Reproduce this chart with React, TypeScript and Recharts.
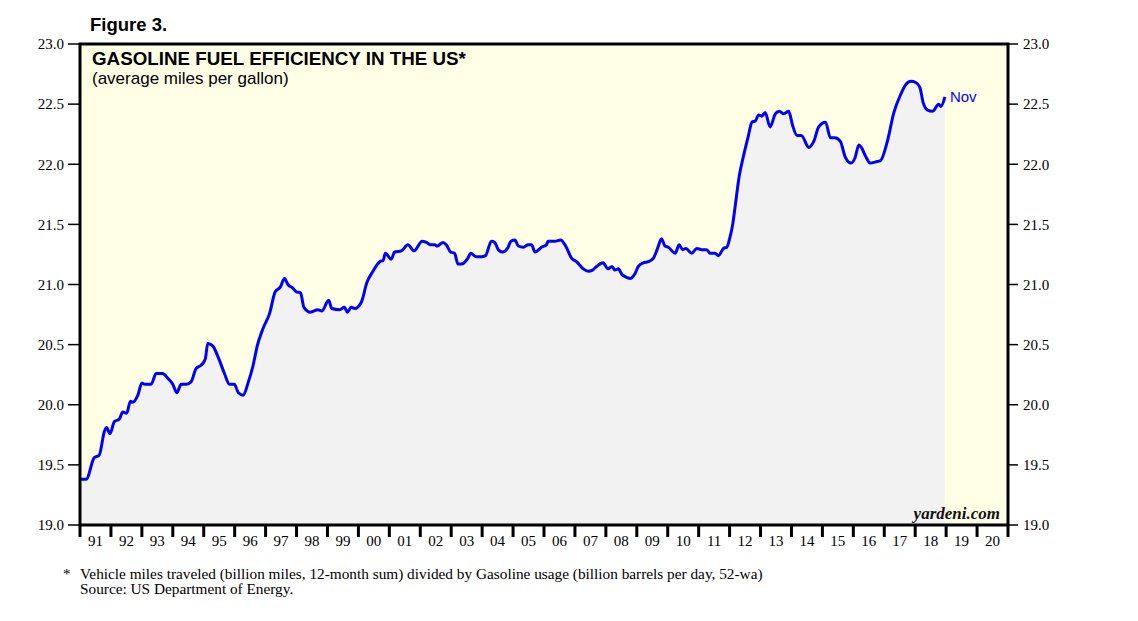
import { ComposedChart, Area, XAxis, YAxis, CartesianGrid, ReferenceArea, ReferenceDot } from "recharts"

// decimal year
const years = [
  1991.0, 1991.2, 1991.46, 1991.62, 1991.79, 1991.86, 1991.97, 1992.11, 1992.27, 1992.38,
  1992.51, 1992.63, 1992.7, 1992.87, 1993.0, 1993.1, 1993.3, 1993.46, 1993.67, 1993.84,
  1994.0, 1994.13, 1994.27, 1994.43, 1994.59, 1994.75, 1994.92, 1995.05, 1995.13, 1995.29,
  1995.46, 1995.67, 1995.83, 1995.99, 1996.12, 1996.28, 1996.43, 1996.59, 1996.73, 1996.91,
  1997.13, 1997.31, 1997.48, 1997.61, 1997.72, 1997.88, 1997.99, 1998.13, 1998.24, 1998.45,
  1998.69, 1998.82, 1999.04, 1999.14, 1999.39, 1999.55, 1999.64, 1999.77, 1999.88, 2000.09,
  2000.28, 2000.47, 2000.69, 2000.8, 2000.87, 2001.06, 2001.17, 2001.39, 2001.6, 2001.8,
  2002.06, 2002.2, 2002.34, 2002.47, 2002.55, 2002.74, 2002.84, 2002.98, 2003.11, 2003.22,
  2003.33, 2003.54, 2003.63, 2003.81, 2003.98, 2004.11, 2004.3, 2004.41, 2004.52, 2004.66,
  2004.84, 2004.93, 2005.06, 2005.17, 2005.33, 2005.49, 2005.6, 2005.71, 2005.92, 2006.08,
  2006.13, 2006.35, 2006.54, 2006.7, 2006.89, 2007.05, 2007.27, 2007.43, 2007.57, 2007.7,
  2007.91, 2008.07, 2008.2, 2008.29, 2008.4, 2008.53, 2008.67, 2008.78, 2008.94, 2009.05,
  2009.21, 2009.37, 2009.54, 2009.67, 2009.8, 2009.91, 2010.02, 2010.24, 2010.37, 2010.48,
  2010.59, 2010.77, 2010.94, 2011.1, 2011.26, 2011.37, 2011.53, 2011.64, 2011.8, 2011.91,
  2012.01, 2012.1, 2012.18, 2012.31, 2012.45, 2012.61, 2012.72, 2012.83, 2012.94, 2013.04,
  2013.15, 2013.31, 2013.48, 2013.61, 2013.75, 2013.91, 2014.04, 2014.18, 2014.32, 2014.56,
  2014.72, 2014.88, 2015.1, 2015.26, 2015.4, 2015.58, 2015.74, 2015.93, 2016.05, 2016.18,
  2016.26, 2016.39, 2016.55, 2016.72, 2016.88, 2017.1, 2017.31, 2017.53, 2017.69, 2017.86,
  2018.02, 2018.15, 2018.26, 2018.4, 2018.56, 2018.76, 2018.83, 2018.96,
]

// average miles per gallon
const mpg = [
  19.38, 19.38, 19.56, 19.58, 19.78, 19.81, 19.76, 19.86, 19.88, 19.94,
  19.93, 20.03, 20.02, 20.08, 20.18, 20.17, 20.17, 20.26, 20.26, 20.22,
  20.17, 20.1, 20.17, 20.17, 20.19, 20.3, 20.33, 20.38, 20.51, 20.49,
  20.4, 20.26, 20.17, 20.17, 20.1, 20.08, 20.18, 20.32, 20.49, 20.63,
  20.76, 20.94, 20.98, 21.05, 21.0, 20.97, 20.94, 20.93, 20.81, 20.77,
  20.79, 20.78, 20.87, 20.8, 20.79, 20.81, 20.77, 20.81, 20.8, 20.85,
  21.02, 21.11, 21.19, 21.2, 21.26, 21.21, 21.27, 21.28, 21.33, 21.28,
  21.36, 21.35, 21.33, 21.33, 21.32, 21.35, 21.33, 21.27, 21.26, 21.17,
  21.17, 21.22, 21.26, 21.23, 21.23, 21.24, 21.36, 21.35, 21.29, 21.27,
  21.31, 21.36, 21.37, 21.32, 21.31, 21.33, 21.33, 21.27, 21.31, 21.33,
  21.36, 21.36, 21.37, 21.32, 21.22, 21.19, 21.13, 21.11, 21.12, 21.15,
  21.18, 21.13, 21.15, 21.12, 21.13, 21.08, 21.06, 21.05, 21.09, 21.15,
  21.18, 21.19, 21.22, 21.3, 21.38, 21.32, 21.31, 21.26, 21.33, 21.29,
  21.3, 21.26, 21.3, 21.29, 21.29, 21.26, 21.26, 21.24, 21.3, 21.31,
  21.39, 21.5, 21.65, 21.9, 22.07, 22.24, 22.35, 22.36, 22.41, 22.4,
  22.43, 22.31, 22.42, 22.44, 22.42, 22.44, 22.32, 22.24, 22.24, 22.14,
  22.19, 22.31, 22.35, 22.22, 22.22, 22.19, 22.06, 22.01, 22.05, 22.16,
  22.14, 22.07, 22.01, 22.02, 22.03, 22.19, 22.43, 22.58, 22.66, 22.69,
  22.68, 22.64, 22.51, 22.45, 22.44, 22.5, 22.48, 22.56,
]

const yearLabels = [
  "91", "92", "93", "94", "95", "96", "97", "98", "99", "00",
  "01", "02", "03", "04", "05", "06", "07", "08", "09", "10",
  "11", "12", "13", "14", "15", "16", "17", "18", "19", "20",
]
const valueTicks = [19, 19.5, 20, 20.5, 21, 21.5, 22, 22.5, 23]
const lastLabel = "Nov"

const firstYear = 1991
const yearBounds = [...yearLabels.map((_, i) => firstYear + i), firstYear + yearLabels.length]
const yearMids = yearLabels.map((_, i) => firstYear + i + 0.5)

const data = years.map((t, i) => ({ t, mpg: mpg[i] }))
const last = data[data.length - 1]

const serif = "'Liberation Serif', 'Times New Roman', serif"
const sans = "'Liberation Sans', Arial, sans-serif"

export default function App() {
  return (
    <div style={{ position: "absolute", left: 0, top: 0, width: 1138, height: 621, background: "#fff" }}>
      <ComposedChart width={1138} height={621} data={data} margin={{ top: 44, right: 0, bottom: 56, left: 0 }}>
        <CartesianGrid horizontal={false} vertical={false} fill="#ffffe6" xAxisId="a" yAxisId="left" />
        <XAxis
          xAxisId="a"
          dataKey="t"
          type="number"
          domain={[firstYear, firstYear + yearLabels.length]}
          allowDataOverflow
          ticks={yearBounds}
          interval={0}
          height={1}
          axisLine={false}
          tickLine={{ stroke: "#000", strokeWidth: 3 }}
          tickSize={12}
          tick={{ fontSize: 1, fill: "none" }}
          tickFormatter={() => " "}
        />
        <XAxis
          xAxisId="b"
          dataKey="t"
          type="number"
          domain={[firstYear, firstYear + yearLabels.length]}
          allowDataOverflow
          ticks={yearMids}
          interval={0}
          height={39}
          axisLine={false}
          tickLine={false}
          tickSize={0}
          tickMargin={9}
          tick={{ fill: "#000", fontSize: 15, fontFamily: serif }}
          tickFormatter={(v: number) => yearLabels[Math.floor(v) - firstYear]}
        />
        <YAxis
          yAxisId="left"
          domain={[19, 23]}
          allowDataOverflow
          ticks={valueTicks}
          interval={0}
          width={80}
          axisLine={false}
          tickLine={{ stroke: "#000", strokeWidth: 1.5 }}
          tickSize={12}
          tickMargin={4}
          tick={{ fill: "#000", fontSize: 15, fontFamily: serif }}
          tickFormatter={(v: number) => v.toFixed(1)}
        />
        <YAxis
          yAxisId="right"
          orientation="right"
          domain={[19, 23]}
          allowDataOverflow
          ticks={valueTicks}
          interval={0}
          width={130}
          axisLine={false}
          tickLine={{ stroke: "#000", strokeWidth: 1.5 }}
          tickSize={10}
          tickMargin={5}
          tick={{ fill: "#000", fontSize: 15, fontFamily: serif }}
          tickFormatter={(v: number) => v.toFixed(1)}
        />
        <Area
          xAxisId="a"
          yAxisId="left"
          dataKey="mpg"
          type="monotone"
          stroke="#0000ff"
          strokeWidth={3}
          fill="#f2f2f2"
          fillOpacity={1}
          dot={false}
          activeDot={false}
          isAnimationActive={false}
        />
        <ReferenceDot
          xAxisId="a"
          yAxisId="left"
          x={last.t}
          y={last.mpg}
          r={0}
          ifOverflow="visible"
          label={{ value: lastLabel, position: "right", offset: 5, fill: "#0000ff", fontSize: 15, fontFamily: sans }}
        />
        <ReferenceArea
          xAxisId="a"
          yAxisId="left"
          x1={firstYear}
          x2={firstYear + yearLabels.length}
          y1={19}
          y2={23}
          fill="none"
          stroke="#000"
          strokeWidth={3}
          ifOverflow="visible"
        />
      </ComposedChart>
      <svg width={1138} height={621} style={{ position: "absolute", left: 0, top: 0, pointerEvents: "none" }}>
        <text x={90} y={31} fontFamily={sans} fontWeight="bold" fontSize={18.5} fill="#000">Figure 3.</text>
        <text x={92} y={65} fontFamily={sans} fontWeight="bold" fontSize={18.8} fill="#000">GASOLINE FUEL EFFICIENCY IN THE US*</text>
        <text x={92} y={84} fontFamily={sans} fontSize={17} fill="#000">(average miles per gallon)</text>
        <text x={1000} y={519} textAnchor="end" fontFamily={serif} fontWeight="bold" fontStyle="italic" fontSize={17} fill="#111">yardeni.com</text>
        <text x={63} y={579} fontFamily={serif} fontSize={15} fill="#000">*</text>
        <text x={80} y={579} fontFamily={serif} fontSize={15.3} fill="#000">Vehicle miles traveled (billion miles, 12-month sum) divided by Gasoline usage (billion barrels per day, 52-wa)</text>
        <text x={80} y={594} fontFamily={serif} fontSize={15.3} fill="#000">Source: US Department of Energy.</text>
      </svg>
    </div>
  )
}
